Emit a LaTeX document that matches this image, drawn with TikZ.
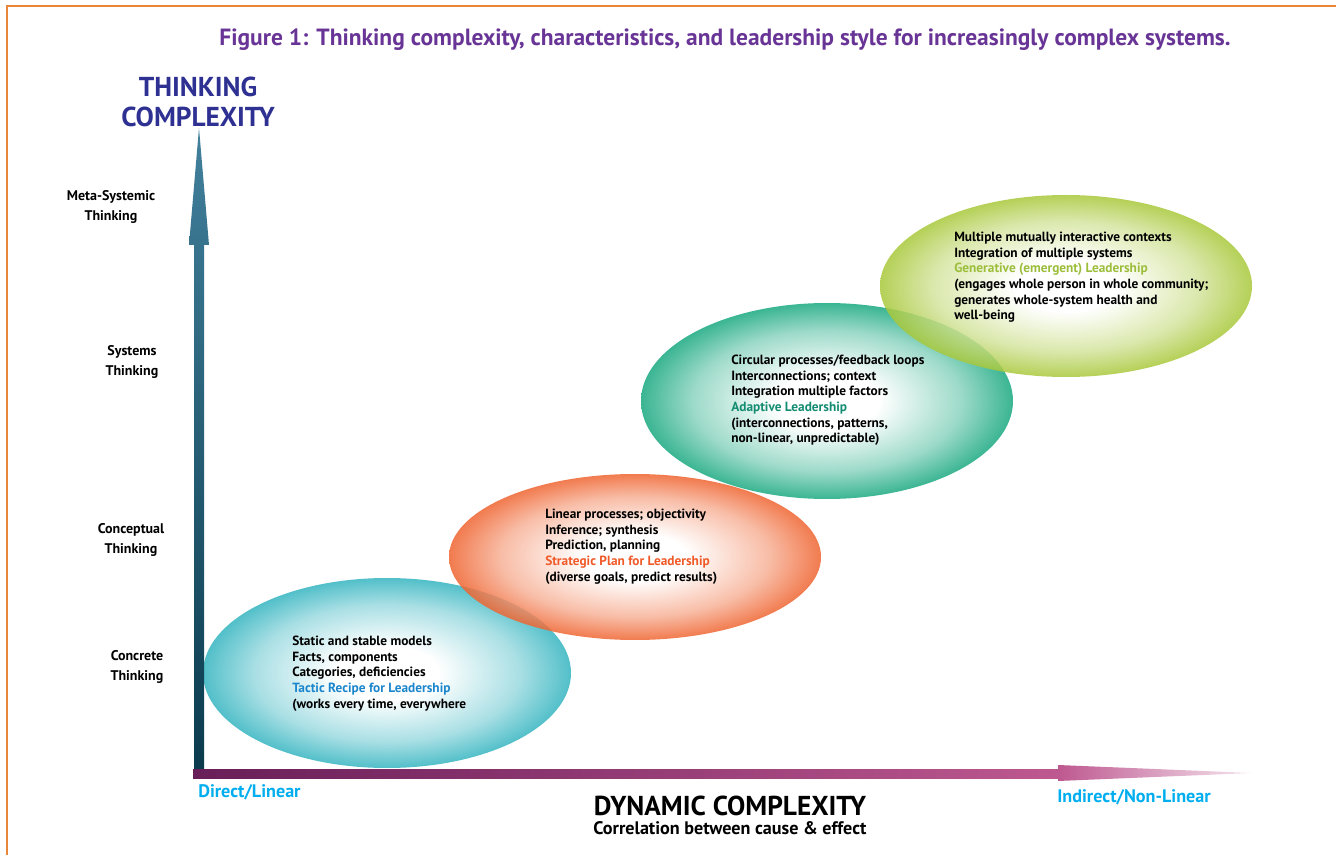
\documentclass[tikz,border=0pt]{standalone}
\usepackage{fontspec}
\setmainfont{PT Sans}
\usetikzlibrary{shapes.geometric,positioning}

\definecolor{framecol}{RGB}{232,134,58}
\definecolor{titlecol}{RGB}{104,52,150}
\definecolor{axiscol}{RGB}{46,49,146}
\definecolor{endcol}{RGB}{0,174,239}
\definecolor{ydark}{RGB}{10,58,76}
\definecolor{ylight}{RGB}{66,128,156}
\definecolor{xdark}{RGB}{104,30,88}
\definecolor{xlight}{RGB}{190,88,144}
\definecolor{recipecol}{RGB}{52,180,192}
\definecolor{plancol}{RGB}{239,100,48}
\definecolor{adaptcol}{RGB}{24,168,128}
\definecolor{emergecol}{RGB}{168,200,58}
\definecolor{recipetxt}{RGB}{28,134,204}
\definecolor{plantxt}{RGB}{240,90,40}
\definecolor{adapttxt}{RGB}{20,140,114}
\definecolor{emergetxt}{RGB}{156,190,58}

% white core fading into the rim colour of each oval
\colorlet{ovalcol}{recipecol}
\pgfdeclareradialshading[ovalcol]{ovalglow}{\pgfpoint{0bp}{0bp}}{%
  color(0bp)=(white); color(7bp)=(white); color(18bp)=(ovalcol!50!white);
  color(25bp)=(ovalcol); color(50bp)=(ovalcol)}

\tikzset{
  oval/.style={ellipse, inner sep=0pt, fill opacity=0.85, /utils/exec={\colorlet{ovalcol}{#1}}, shading=ovalglow},
  ovaltext/.style={anchor=north west, align=left, inner sep=0pt, font=\bfseries\fontsize{10}{11.7}\selectfont},
  level/.style={align=center, inner sep=0pt, font=\bfseries\fontsize{10.5}{15.7}\selectfont},
  axislabel/.style={align=center, inner sep=0pt, text=axiscol, font=\bfseries\fontsize{20.5}{23}\selectfont},
  endlabel/.style={anchor=west, inner sep=0pt, text=endcol, font=\bfseries\fontsize{13.6}{15}\selectfont},
  frame/.style={draw=framecol, line width=1.9pt}
}

\begin{document}
\begin{tikzpicture}[x=0.75pt, y=-0.75pt]
\useasboundingbox (0,0) rectangle (1336,855);
\draw[frame] (7,855) |- (1336,6);

\node[inner sep=0pt, text=titlecol, font=\bfseries\fontsize{17.6}{19}\selectfont] (title) at (725,40)
  {Figure 1: Thinking complexity, characteristics, and leadership style for increasingly complex systems.};

% ovals, back to front
\node[oval=recipecol, minimum width=276pt, minimum height=142.5pt] (recipe) at (387,673) {};
\node[oval=plancol, minimum width=279pt, minimum height=124.5pt] (plan) at (635,557) {};
\node[oval=adaptcol, minimum width=279pt, minimum height=147pt] (adaptive) at (827,401) {};
\node[oval=emergecol, minimum width=279pt, minimum height=136.5pt] (emergent) at (1066,286) {};

\node[ovaltext] (recipetext) at (292,636) {Static and stable models\\Facts, components\\Categories, deficiencies\\
  \textcolor{recipetxt}{Tactic Recipe for Leadership}\\(works every time, everywhere};
\node[ovaltext] (plantext) at (545,509) {Linear processes; objectivity\\Inference; synthesis\\Prediction, planning\\
  \textcolor{plantxt}{Strategic Plan for Leadership}\\(diverse goals, predict results)};
\node[ovaltext] (adapttext) at (731,355) {Circular processes/feedback loops\\Interconnections; context\\Integration multiple factors\\
  \textcolor{adapttxt}{Adaptive Leadership}\\(interconnections, patterns,\\non-linear, unpredictable)};
\node[ovaltext] (emergetext) at (954,232) {Multiple mutually interactive contexts\\Integration of multiple systems\\
  \textcolor{emergetxt}{Generative (emergent) Leadership}\\(engages whole person in whole community;\\generates whole-system health and\\well-being};

% axes
\coordinate (origin) at (199,773);
\coordinate (ytip) at (199,128);
\coordinate (xtip) at (1252,773);
\shade[bottom color=ydark, top color=ylight] (194,778) -- (194,245) -- (189,245) -- (ytip) -- (209,245) -- (204,245) -- (204,778) -- cycle;
\shade[left color=xdark, right color=xlight] (193,769) rectangle (1060,778);
\shade[left color=xlight, right color=xlight!15] (1058,765) -- (xtip) -- (1058,781) -- cycle;

\node[axislabel] (ycap) at (198,102) {THINKING\\COMPLEXITY};
\node[level] (meta) at (111,207) {Meta-Systemic\\Thinking};
\node[level] (systems) at (132,362) {Systems\\Thinking};
\node[level] (conceptual) at (131,540) {Conceptual\\Thinking};
\node[level] (concrete) at (137,667) {Concrete\\Thinking};

\node[endlabel] (direct) at (198,792) {Direct/Linear};
\node[endlabel] (indirect) at (1057,797) {Indirect/Non-Linear};
\node[inner sep=0pt, font=\bfseries\fontsize{20.5}{22}\selectfont] (dyn) at (730,806) {DYNAMIC COMPLEXITY};
\node[below=4pt of dyn, inner sep=0pt, font=\bfseries\fontsize{13.6}{15}\selectfont] (corr) {Correlation between cause \& effect};
\end{tikzpicture}
\end{document}
